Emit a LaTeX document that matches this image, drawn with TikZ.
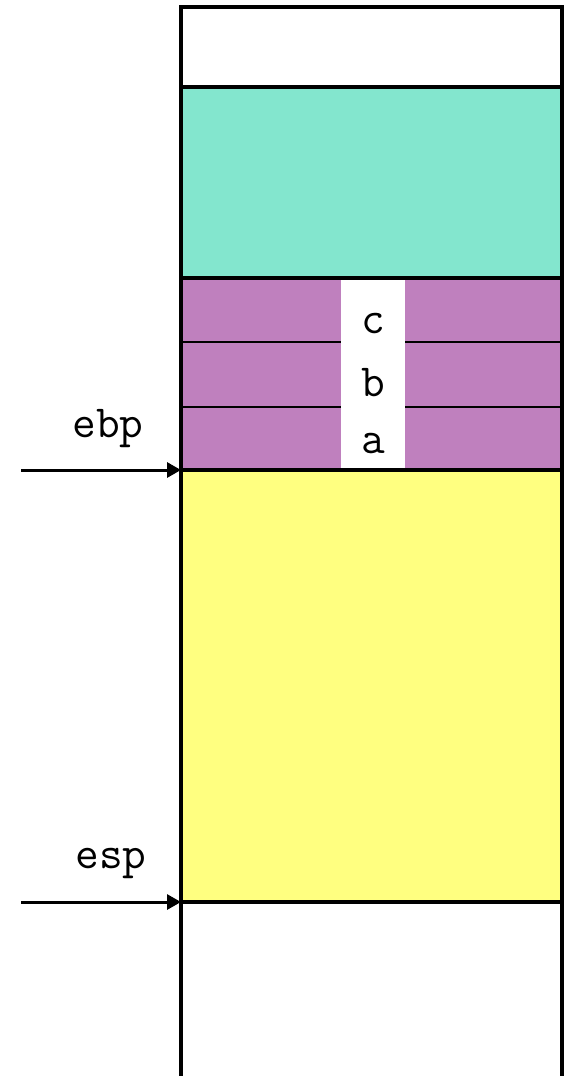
\documentclass[tikz,border=0pt]{standalone}
\usetikzlibrary{arrows.meta}
\definecolor{frameteal}{HTML}{83E6CE}
\definecolor{argpurple}{HTML}{BF80BE}
\definecolor{localyellow}{HTML}{FFFF80}
\begin{document}
\begin{tikzpicture}[x=1pt,y=-1pt]
    \tikzstyle{every node}=[font={\ttfamily\fontsize{46}{52}\selectfont}, inner sep=0pt]
    \tikzstyle{wall}=[line width=3.4pt]
    \useasboundingbox (0,0) rectangle (565,1076);
    % stack areas
    \fill[frameteal] (181,87) rectangle (562,278);
    \fill[argpurple] (181,278) rectangle (562,470);
    \fill[localyellow] (181,470) rectangle (562,902);
    \draw[line width=2pt] (181,342) -- (562,342) (181,407) -- (562,407);
    \fill[white] (341,280) rectangle (405,469);
    \foreach \arg/\y in {c/333, b/396, a/453}
        \node[anchor=base] (arg\arg) at (373,\y) {\arg};
    % frame of the stack
    \draw[wall] (181,1076) -- (181,7) -- (562,7) -- (562,1076);
    \foreach \y in {87, 278, 470, 902}
        \draw[wall] (181,\y) -- (562,\y);
    % pointers
    \coordinate (ebp) at (181,470);
    \coordinate (ebpfrom) at (21,470);
    \coordinate (esp) at (181,902);
    \coordinate (espfrom) at (21,902);
    \node[anchor=base] (ebplabel) at (108,437) {ebp};
    \node[anchor=base] (esplabel) at (111,868) {esp};
    \draw[line width=3pt, -{Triangle[length=14pt,width=15pt]}] (ebpfrom) -- (ebp);
    \draw[line width=3pt, -{Triangle[length=14pt,width=15pt]}] (espfrom) -- (esp);
\end{tikzpicture}
\end{document}
